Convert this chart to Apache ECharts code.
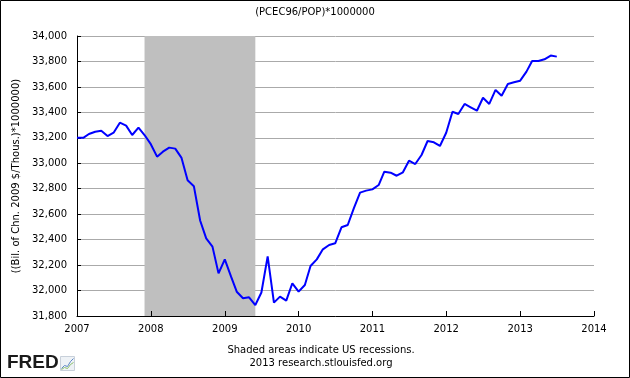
<!DOCTYPE html>
<html>
<head>
<meta charset="utf-8">
<script src="https://cdn.jsdelivr.net/npm/echarts@6/dist/echarts.min.js"></script>
<style>
  html, body { margin: 0; padding: 0; background: #fff; }
  #chart { width: 630px; height: 378px; }
</style>
</head>
<body>
<div id="chart"></div>
<script>
// monthly values, Jan 2007 .. Jul 2013
var startYear = 2007;
var values = [
    33200, 33200, 33230, 33248, 33256, 33214, 33240, 33319, 33296, 33222, 33280, 33222,
    33150, 33052, 33091, 33123, 33115, 33042, 32866, 32820, 32550, 32410, 32345, 32135,
    32245, 32109, 31991, 31939, 31947, 31886, 31985, 32268, 31905, 31952, 31921, 32057,
    31991, 32044, 32193, 32245, 32324, 32358, 32371, 32497, 32515, 32646, 32769, 32785,
    32795, 32829, 32934, 32926, 32902, 32929, 33020, 32994, 33065, 33175, 33165, 33136,
    33240, 33405, 33387, 33466, 33440, 33413, 33515, 33466, 33576, 33531, 33623, 33636,
    33649, 33720, 33804, 33804, 33817, 33846, 33838
];
var recessions = [['2007-12-01', '2009-06-01']];
var yTicks = { min: 31800, max: 34000, step: 200 };
var xRange = ['2007-01-01', '2014-01-01'];

var seriesData = [];
for (var i = 0; i < values.length; i++) {
    var y = startYear + Math.floor(i / 12);
    var m = (i % 12) + 1;
    seriesData.push([y + '-' + (m < 10 ? '0' + m : m) + '-01', values[i]]);
}

var font = 'DejaVu Sans';
var myChart = echarts.init(document.getElementById('chart'));

myChart.setOption({
    animation: false,
    backgroundColor: '#fff',
    title: {
        text: '(PCEC96/POP)*1000000',
        left: 'center',
        top: 2,
        textStyle: { fontFamily: font, fontSize: 10, fontWeight: 'normal', color: '#000' }
    },
    grid: {
        left: 77,
        right: 36,
        top: 36,
        bottom: 62
    },
    xAxis: {
        type: 'time',
        min: xRange[0],
        max: xRange[1],
        minInterval: 365 * 864e5,
        maxInterval: 366 * 864e5,
        z: 5,
        axisLine: { lineStyle: { color: '#000', width: 1 } },
        axisTick: { inside: true, length: 5, lineStyle: { color: '#000' } },
        splitLine: { show: false },
        axisLabel: {
            formatter: '{yyyy}',
            fontFamily: font, fontSize: 10, color: '#000', margin: 8,
            showMinLabel: true, showMaxLabel: true
        }
    },
    yAxis: {
        type: 'value',
        min: yTicks.min,
        max: yTicks.max,
        interval: yTicks.step,
        name: '((Bil. of Chn. 2009 $/Thous.)*1000000)',
        nameLocation: 'middle',
        nameGap: 54,
        nameTextStyle: { fontFamily: font, fontSize: 10, color: '#000' },
        axisLine: { show: true, lineStyle: { color: '#000', width: 1 } },
        axisTick: { show: true, inside: true, length: 4, lineStyle: { color: '#000' } },
        splitLine: { lineStyle: { color: '#aaaaaa', width: 1 } },
        axisLabel: {
            fontFamily: font, fontSize: 10, color: '#000', margin: 10,
            formatter: function (v) { return echarts.format.addCommas(v); }
        }
    },
    series: [
        {
            name: 'PCEC96/POP',
            type: 'line',
            data: seriesData,
            showSymbol: false,
            lineStyle: { color: '#0000ff', width: 2 },
            markArea: {
                silent: true,
                itemStyle: { color: '#bfbfbf', opacity: 1 },
                data: recessions.map(function (r) { return [{ xAxis: r[0] }, { xAxis: r[1] }]; })
            }
        }
    ],
    graphic: [
        {
            type: 'rect',
            shape: { x: 0.5, y: 0.5, width: 629, height: 377 },
            style: { fill: null, stroke: '#000', lineWidth: 1 },
            silent: true
        },
        {
            type: 'text',
            x: 321,
            y: 345,
            style: {
                text: 'Shaded areas indicate US recessions.',
                fontFamily: font, fontSize: 10, fill: '#000', align: 'center'
            }
        },
        {
            type: 'text',
            x: 321,
            y: 358,
            style: {
                text: '2013 research.stlouisfed.org',
                fontFamily: font, fontSize: 10, fill: '#000', align: 'center'
            }
        },
        {
            type: 'text',
            left: 7,
            top: 353,
            style: {
                text: 'FRED',
                fontFamily: 'Liberation Sans', fontWeight: 'bold', fontSize: 19, fill: '#1a1a1a'
            }
        },
        {
            type: 'group',
            left: 59,
            top: 356,
            children: [
                { type: 'rect', shape: { x: 0, y: 0, width: 14, height: 14 }, style: { fill: '#eef2f6', stroke: '#c8d0da', lineWidth: 1 } },
                { type: 'polyline', shape: { points: [[1, 12], [4, 9], [7, 10], [10, 5], [13, 2]] }, style: { stroke: '#5b86c5', lineWidth: 1, fill: null } },
                { type: 'polyline', shape: { points: [[1, 13], [4, 11], [7, 12], [10, 8], [13, 6]] }, style: { stroke: '#8cc06b', lineWidth: 1, fill: null } }
            ]
        }
    ]
});
</script>
</body>
</html>
